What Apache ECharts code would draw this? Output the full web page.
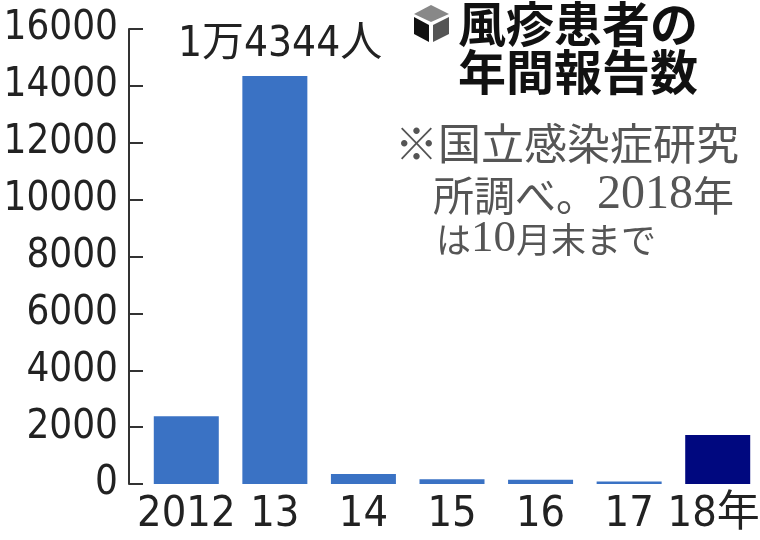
<!DOCTYPE html>
<html><head><meta charset="utf-8">
<style>html,body{margin:0;padding:0;background:#fff}#c{width:760px;height:540px}</style>
<script src="https://cdn.jsdelivr.net/npm/echarts@6/dist/echarts.min.js"></script>
</head><body><div id="c"></div>
<script>
const categories = ['2012','13','14','15','16','17','18年'];
const values = [2386,14344,350,165,150,90,1720];
const tickMax = 16000, tickStep = 2000;
const peakLabel = '1万4344人';
const title = ['風疹患者の','年間報告数'];
const note = ['※国立感染症研究','所調べ。2018年','は10月末まで'];
const fam = '"Noto Sans CJK JP",sans-serif';
const cond = '"DejaVu Sans Condensed","Liberation Sans Narrow","Noto Sans CJK JP",sans-serif';
const serif = '"Liberation Serif","Noto Sans CJK JP",serif';
const noteColor = '#555';
function richLine(line){
  return line.split(/(\d+)/).filter(Boolean).map(s=>/^\d/.test(s)?'{d|'+s+'}':'{a|'+s+'}').join('');
}
function noteText(line,left,top,size,dsize){
  return {type:'text',left,top,style:{text:richLine(line),rich:{
    a:{fontSize:size,fill:noteColor,fontFamily:fam},
    d:{fontSize:dsize,fill:noteColor,fontFamily:serif}}}};
}
const labelStyle = {color:'#222',fontSize:43,fontFamily:cond};
const chart = echarts.init(document.getElementById('c'));
chart.setOption({
  animation:false,
  grid:{left:142,width:620,top:29,bottom:56,outerBoundsMode:'none'},
  xAxis:{type:'category',data:categories,
    axisLine:{show:false},axisTick:{show:false},
    axisLabel:Object.assign({},labelStyle,{margin:9,interval:0,
      formatter:(v,i)=>i===categories.length-1?'{last|'+v+'}':v,
      rich:{last:Object.assign({},labelStyle,{padding:[0,8,0,0]})}})},
  yAxis:{type:'value',min:0,max:tickMax,interval:tickStep,offset:13,
    axisLine:{show:true,lineStyle:{color:'#333',width:2}},
    axisTick:{show:true,inside:true,length:14,lineStyle:{color:'#333',width:2}},
    splitLine:{show:false},
    axisLabel:{color:'#222',fontSize:40,fontFamily:cond,margin:11,formatter:v=>String(v)}},
  series:[{type:'bar',barWidth:65,
    data:values.map((v,i)=>({value:v,itemStyle:{color:i===6?'#00087f':'#3a72c4'}}))}],
  graphic:[
    {type:'text',left:178,top:24,style:{text:peakLabel,fontSize:42,fill:'#222',fontFamily:cond}},
    {type:'text',left:458,top:0,style:{text:title.join('\n'),fontSize:48,lineHeight:48,fontWeight:'bold',fill:'#111',fontFamily:fam}},
    {type:'text',left:395,top:122,style:{text:note[0],fontSize:43,fill:noteColor,fontFamily:fam}},
    noteText(note[1],433,171,41,48),
    noteText(note[2],436,217,35,45),
    {type:'polygon',shape:{points:[[431,5],[449,14],[431,22],[414,14]]},style:{fill:'#888'}},
    {type:'polygon',shape:{points:[[414,17],[429,25],[429,42],[414,34]]},style:{fill:'#111'}},
    {type:'polygon',shape:{points:[[433,25],[449,17],[449,34],[433,42]]},style:{fill:'#555'}}
  ]
});
</script></body></html>
